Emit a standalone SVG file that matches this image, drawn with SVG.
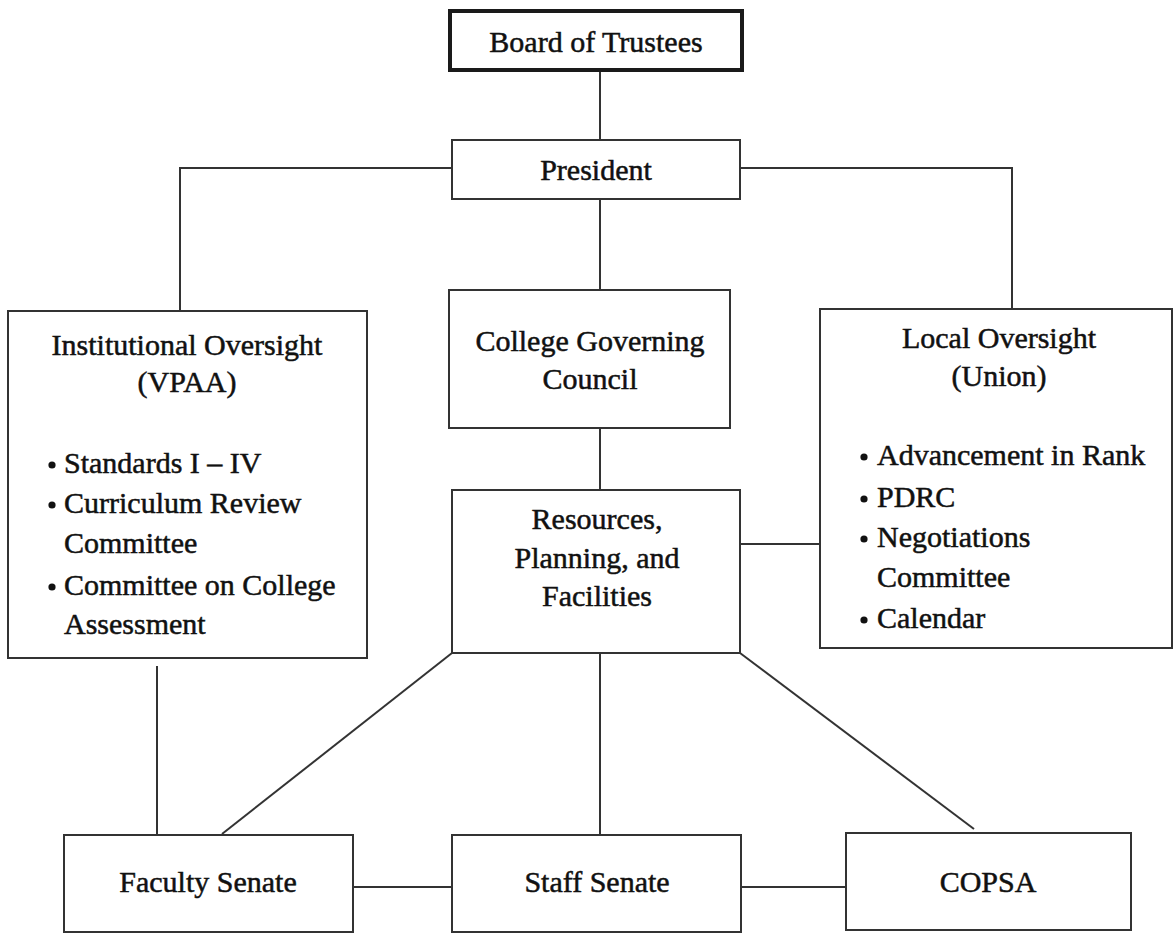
<svg xmlns="http://www.w3.org/2000/svg" width="1174" height="934" viewBox="0 0 1174 934">
  <style>
    .box { fill: #ffffff; stroke: #333333; stroke-width: 2; }
    .thick { stroke-width: 4; stroke: #1a1a1a; }
    .link { fill: none; stroke: #333333; stroke-width: 2; }
    .dot { fill: #111111; }
    text { font-family: "Liberation Serif", "Times New Roman", serif; font-size: 30px; fill: #111111; stroke: #111111; stroke-width: 0.5; }
    .c { text-anchor: middle; }
  </style>
  <rect width="1174" height="934" fill="#ffffff"/>

  <g id="connectors">
    <line class="link" x1="600" y1="70" x2="600" y2="140"/>
    <polyline class="link" points="452,168 180,168 180,311"/>
    <polyline class="link" points="740,168 1012,168 1012,309"/>
    <line class="link" x1="600" y1="199" x2="600" y2="290"/>
    <line class="link" x1="600" y1="428" x2="600" y2="490"/>
    <line class="link" x1="740" y1="544" x2="820" y2="544"/>
    <line class="link" x1="157" y1="666" x2="157" y2="835"/>
    <line class="link" x1="452" y1="653" x2="222" y2="834"/>
    <line class="link" x1="600" y1="653" x2="600" y2="835"/>
    <line class="link" x1="740" y1="653" x2="974" y2="829"/>
    <line class="link" x1="353" y1="887" x2="452" y2="887"/>
    <line class="link" x1="741" y1="887" x2="846" y2="887"/>
  </g>

  <g id="board">
    <rect class="box thick" x="450" y="11" width="292" height="59"/>
    <text class="c" x="596" y="52">Board of Trustees</text>
  </g>

  <g id="president">
    <rect class="box" x="452" y="140" width="288" height="59"/>
    <text class="c" x="596" y="180">President</text>
  </g>

  <g id="institutional-oversight">
    <rect class="box" x="8" y="311" width="359" height="347"/>
    <text class="c" x="187" y="355">Institutional Oversight</text>
    <text class="c" x="187" y="392">(VPAA)</text>
    <circle class="dot" cx="52" cy="465" r="3.6"/>
    <text x="64" y="473">Standards I – IV</text>
    <circle class="dot" cx="52" cy="505" r="3.6"/>
    <text x="64" y="513">Curriculum Review</text>
    <text x="64" y="553">Committee</text>
    <circle class="dot" cx="52" cy="587" r="3.6"/>
    <text x="64" y="595">Committee on College</text>
    <text x="64" y="634">Assessment</text>
  </g>

  <g id="college-governing-council">
    <rect class="box" x="449" y="290" width="281" height="138"/>
    <text class="c" x="590" y="351">College Governing</text>
    <text class="c" x="590" y="389">Council</text>
  </g>

  <g id="local-oversight">
    <rect class="box" x="820" y="309" width="352" height="339"/>
    <text class="c" x="999" y="348">Local Oversight</text>
    <text class="c" x="999" y="386">(Union)</text>
    <circle class="dot" cx="864" cy="457" r="3.6"/>
    <text x="877" y="465">Advancement in Rank</text>
    <circle class="dot" cx="864" cy="499" r="3.6"/>
    <text x="877" y="507">PDRC</text>
    <circle class="dot" cx="864" cy="539" r="3.6"/>
    <text x="877" y="547">Negotiations</text>
    <text x="877" y="587">Committee</text>
    <circle class="dot" cx="864" cy="620" r="3.6"/>
    <text x="877" y="628">Calendar</text>
  </g>

  <g id="resources-planning-facilities">
    <rect class="box" x="452" y="490" width="288" height="163"/>
    <text class="c" x="597" y="529">Resources,</text>
    <text class="c" x="597" y="568">Planning, and</text>
    <text class="c" x="597" y="606">Facilities</text>
  </g>

  <g id="faculty-senate">
    <rect class="box" x="64" y="835" width="289" height="97"/>
    <text class="c" x="208" y="892">Faculty Senate</text>
  </g>

  <g id="staff-senate">
    <rect class="box" x="452" y="835" width="289" height="97"/>
    <text class="c" x="597" y="892">Staff Senate</text>
  </g>

  <g id="copsa">
    <rect class="box" x="846" y="833" width="285" height="97"/>
    <text class="c" x="988" y="892">COPSA</text>
  </g>
</svg>
